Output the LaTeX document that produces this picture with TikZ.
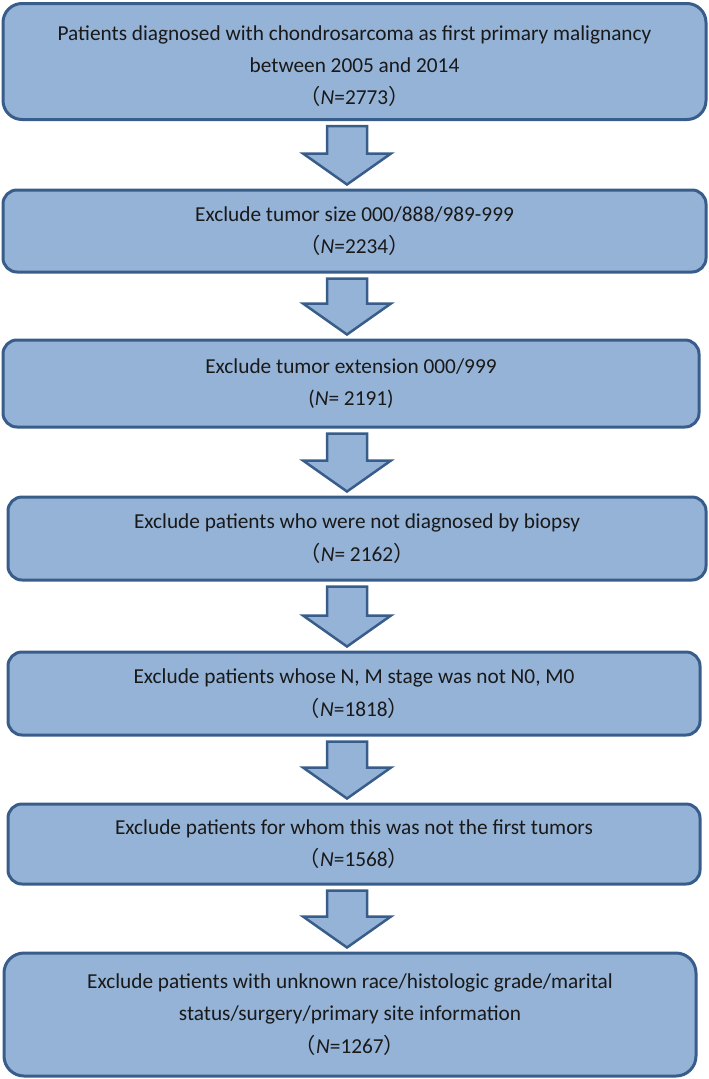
\documentclass[tikz,border=0pt]{standalone}
\usepackage{fontspec}
\setmainfont{Carlito}
\newfontfamily\cjk{Noto Sans CJK SC}
\usetikzlibrary{calc}
\definecolor{boxfill}{HTML}{95B3D7}
\definecolor{boxline}{HTML}{385D8A}
\newcommand{\lp}{{\cjk （}}
\newcommand{\rp}{{\cjk ）}}
\newcommand{\flowarrow}[2]{%
  \draw[arrowshape] let \p1=($(ax|-#1.south)+(0,-5pt)$), \p2=($(ax|-#2.north)+(0,4pt)$) in
    (\x1-20pt,\y1) -- (\x1+20pt,\y1) -- (\x1+20pt,\y2+31pt) -- (\x1+44pt,\y2+31pt)
    -- (\x1,\y2) -- (\x1-44pt,\y2+31pt) -- (\x1-20pt,\y2+31pt) -- cycle;}
\begin{document}
\begin{tikzpicture}[x=1pt,y=-1pt,
  box/.style={draw=boxline, fill=boxfill, line width=3pt, align=center,
    font=\fontsize{21.3}{32.3}\selectfont, inner sep=0pt, text=black!90},
  arrowshape/.style={draw=boxline, fill=boxfill, line width=2.5pt, line join=miter}]
\useasboundingbox (0,0) rectangle (709,1079);
\coordinate (ax) at (347,0);
\node[box, minimum width=703, minimum height=116, rounded corners=19] (b1) at (354.5,61.5)
  {\rule{0pt}{24pt}Patients diagnosed with chondrosarcoma as first primary malignancy\\between 2005 and 2014\\\lp\textit{N}=2773\rp};
\node[box, minimum width=703, minimum height=82, rounded corners=14] (b2) at (354.5,231)
  {Exclude tumor size 000/888/989-999\\\lp\textit{N}=2234\rp};
\node[box, minimum width=696, minimum height=87, rounded corners=14] (b3) at (351,383.5)
  {Exclude tumor extension 000/999\\(\textit{N}= 2191)};
\node[box, minimum width=698, minimum height=83, rounded corners=14] (b4) at (357,538.5)
  {Exclude patients who were not diagnosed by biopsy\\\lp\textit{N}= 2162\rp};
\node[box, minimum width=692, minimum height=83, rounded corners=14] (b5) at (354,693.5)
  {Exclude patients whose N, M stage was not N0, M0\\\lp\textit{N}=1818\rp};
\node[box, minimum width=692, minimum height=80, rounded corners=14] (b6) at (354,844)
  {Exclude patients for whom this was not the first tumors\\\lp\textit{N}=1568\rp};
\node[box, minimum width=692, minimum height=123, rounded corners=20] (b7) at (350,1014.5)
  {Exclude patients with unknown race/histologic grade/marital\\status/surgery/primary site information\\\lp\textit{N}=1267\rp};
\flowarrow{b1}{b2}
\flowarrow{b2}{b3}
\flowarrow{b3}{b4}
\flowarrow{b4}{b5}
\flowarrow{b5}{b6}
\flowarrow{b6}{b7}
\end{tikzpicture}
\end{document}
